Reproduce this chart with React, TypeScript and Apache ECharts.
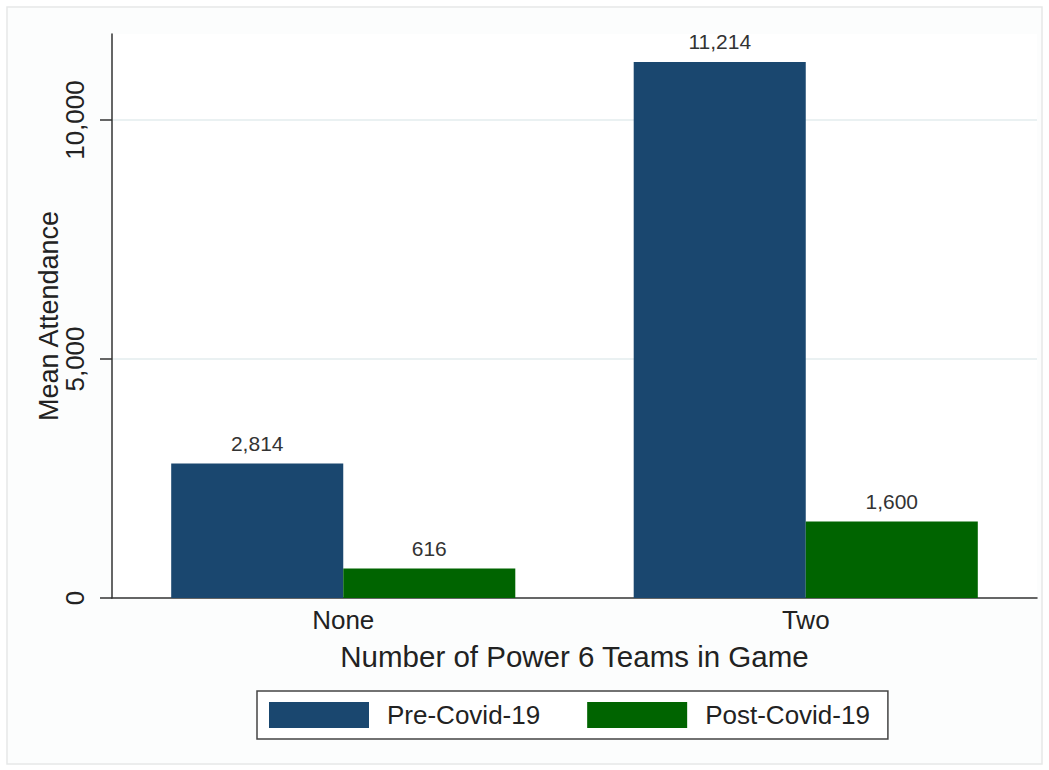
import React, { useEffect, useRef } from 'react';
import * as echarts from 'echarts';

const categories = ['None', 'Two'];
const preCovid = [2814, 11214];
const postCovid = [616, 1600];
const yTicks = [0, 5000, 10000];
const gridValues = [5000, 10000];
const seriesNames = ['Pre-Covid-19', 'Post-Covid-19'];
const xTitle = 'Number of Power 6 Teams in Game';
const yTitle = 'Mean Attendance';

export default function App() {
  const ref = useRef<HTMLDivElement>(null);
  useEffect(() => {
    const chart = echarts.init(ref.current!, null, { renderer: 'svg' });
    const font = 'Liberation Sans, Arial, Helvetica, sans-serif';
    const fmt = (v: number) => Number(v).toLocaleString('en-US');
    chart.setOption({
      animation: false,
      backgroundColor: '#ffffff',
      textStyle: { fontFamily: font },
      graphic: [
        {
          type: 'rect',
          z: -10,
          silent: true,
          shape: { x: 7, y: 7, width: 1035, height: 757 },
          style: { fill: '#fcfdfd', stroke: '#e6e8e8', lineWidth: 1.5 },
        },
      ],
      grid: {
        left: 112,
        right: 12,
        top: 34,
        bottom: 172,
        show: true,
        backgroundColor: '#ffffff',
        borderWidth: 0,
      },
      legend: {
        data: seriesNames,
        left: 257,
        top: 691,
        orient: 'horizontal',
        icon: 'rect',
        itemWidth: 100,
        itemHeight: 26,
        itemGap: 47,
        padding: [11, 18, 11, 12],
        borderColor: '#444444',
        borderWidth: 1.5,
        borderRadius: 0,
        backgroundColor: '#ffffff',
        textStyle: { fontFamily: font, fontSize: 26, color: '#222222', padding: [0, 0, 0, 13] },
      },
      xAxis: {
        type: 'category',
        data: categories,
        axisLine: { lineStyle: { color: '#333333', width: 1.5 } },
        axisTick: { show: false },
        axisLabel: { fontFamily: font, fontSize: 26, color: '#222222', margin: 9 },
        name: xTitle,
        nameLocation: 'middle',
        nameGap: 43,
        nameTextStyle: { fontFamily: font, fontSize: 29.5, color: '#222222' },
        splitLine: { show: false },
      },
      yAxis: {
        type: 'value',
        min: 0,
        max: 11800,
        interval: 5000,
        axisLine: { show: true, lineStyle: { color: '#333333', width: 1.5 } },
        axisTick: { show: true, length: 12, lineStyle: { color: '#333333', width: 1.5 }, customValues: yTicks },
        axisLabel: {
          fontFamily: font,
          fontSize: 26,
          color: '#222222',
          rotate: 90,
          margin: 24,
          customValues: yTicks,
          formatter: (v: number) => fmt(v),
        },
        splitLine: { show: false },
        name: yTitle,
        nameLocation: 'middle',
        nameGap: 50,
        nameMoveOverlap: false,
        nameTextStyle: { fontFamily: font, fontSize: 27, color: '#222222' },
      },
      series: [
        {
          type: 'line',
          data: [],
          z: 0,
          silent: true,
          markLine: {
            z: 0,
            silent: true,
            symbol: 'none',
            label: { show: false },
            lineStyle: { color: '#e3ecee', width: 1.5, type: 'solid' },
            data: gridValues.map((v) => ({ yAxis: v })),
          },
        },
        {
          name: seriesNames[0],
          type: 'bar',
          z: 3,
          data: preCovid,
          barGap: '0%',
          barCategoryGap: '25.6%',
          itemStyle: { color: '#1a476f' },
          label: {
            show: true,
            position: 'top',
            distance: 10,
            fontFamily: font,
            fontSize: 21,
            color: '#333333',
            formatter: (p: any) => fmt(p.value),
          },
        },
        {
          name: seriesNames[1],
          type: 'bar',
          z: 3,
          data: postCovid,
          barGap: '0%',
          barCategoryGap: '25.6%',
          itemStyle: { color: '#006400' },
          label: {
            show: true,
            position: 'top',
            distance: 10,
            fontFamily: font,
            fontSize: 21,
            color: '#333333',
            formatter: (p: any) => fmt(p.value),
          },
        },
      ],
    });
    return () => chart.dispose();
  }, []);
  return (
    <div
      ref={ref}
      style={{ position: 'absolute', left: 0, top: 0, width: 1049, height: 770 }}
    />
  );
}
